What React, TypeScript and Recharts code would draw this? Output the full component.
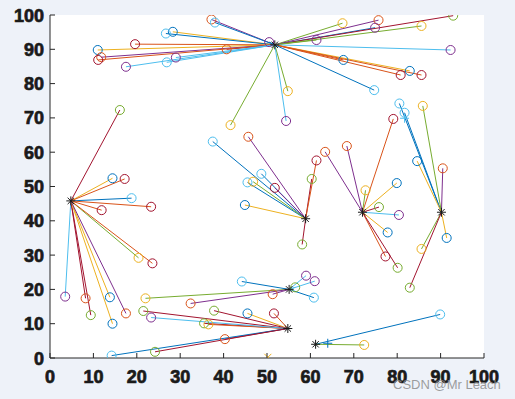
import React from "react";
import {
  ScatterChart,
  Scatter,
  XAxis,
  YAxis,
  ReferenceArea,
} from "recharts";

// MATLAB default colour order
const COLORS = ["#0072BD", "#D95319", "#EDB120", "#7E2F8E", "#77AC30", "#4DBEEE", "#A2142F"];

const xTicks = [0, 10, 20, 30, 40, 50, 60, 70, 80, 90, 100];
const yTicks = [0, 10, 20, 30, 40, 50, 60, 70, 80, 90, 100];

// hubs (black asterisks)
const hubs = [
  { x: 4.8, y: 45.8 },
  { x: 51.8, y: 91.3 },
  { x: 58.9, y: 40.6 },
  { x: 72.0, y: 42.5 },
  { x: 90.2, y: 42.5 },
  { x: 55.1, y: 20.0 },
  { x: 54.8, y: 8.6 },
  { x: 61.2, y: 4.0 },
];

// spokes: [x, y, lineColourIndex, circleColourIndex]
const spokesH1 = [
  [16.1, 72.3, 6, 4], [14.4, 52.4, 2, 0], [17.2, 52.2, 1, 6], [18.8, 46.6, 0, 5],
  [23.3, 44.1, 1, 6], [11.9, 43.1, 1, 6], [20.4, 29.2, 4, 2], [23.6, 27.6, 1, 6],
  [3.5, 17.9, 5, 3], [8.2, 17.4, 6, 1], [9.4, 12.5, 6, 4], [13.8, 17.7, 2, 0],
  [14.4, 10.0, 2, 0], [17.5, 13.0, 3, 1],
];
const spokesH2 = [
  [37.2, 98.7, 3, 1], [38.0, 97.8, 0, 5], [28.3, 95.1, 2, 0], [26.7, 94.6, 0, 5],
  [19.6, 91.5, 1, 6], [11.0, 89.8, 2, 0], [40.7, 90.0, 6, 1], [11.8, 87.7, 3, 1],
  [11.1, 86.9, 1, 6], [29.0, 87.6, 5, 3], [26.9, 86.2, 5, 5], [17.5, 84.9, 5, 3],
  [50.5, 92.1, 0, 3], [41.6, 67.9, 4, 2], [67.4, 97.6, 4, 2], [75.7, 98.5, 3, 1],
  [74.9, 96.3, 0, 3], [92.9, 99.8, 6, 4], [85.6, 96.8, 4, 2], [61.4, 92.7, 4, 3],
  [92.3, 89.8, 5, 3], [67.6, 86.9, 1, 0], [82.9, 83.7, 2, 0], [80.8, 82.5, 1, 6],
  [85.6, 82.5, 1, 6], [74.7, 78.1, 0, 5], [54.8, 77.8, 4, 2], [54.4, 69.1, 5, 3],
];
const spokesH3 = [
  [37.5, 63.1, 0, 5], [45.7, 64.5, 3, 1], [48.7, 53.7, 0, 5], [45.5, 51.2, 0, 5],
  [46.8, 51.4, 4, 2], [51.8, 49.6, 3, 6], [44.9, 44.6, 2, 0], [60.3, 52.2, 6, 4],
  [61.4, 57.6, 1, 6], [58.1, 33.1, 6, 4],
];
const spokesH4 = [
  [63.4, 60.1, 3, 1], [68.4, 61.8, 3, 1], [79.1, 69.7, 1, 6], [72.7, 48.9, 4, 2],
  [75.8, 44.0, 6, 4], [79.9, 51.0, 2, 0], [80.4, 41.7, 5, 3], [77.8, 36.6, 2, 0],
  [77.3, 29.6, 1, 6], [80.1, 26.3, 6, 4],
];
const spokesH5 = [
  [80.5, 74.2, 0, 5], [81.7, 71.5, 0, 5], [85.9, 73.5, 4, 2], [84.6, 57.4, 2, 0],
  [90.5, 55.3, 3, 1], [91.4, 35.0, 2, 0], [85.6, 31.8, 4, 2], [82.9, 20.5, 6, 4],
];
const spokesH6 = [
  [44.2, 22.3, 0, 5], [59.0, 24.0, 5, 3], [61.0, 22.4, 5, 3], [60.8, 17.6, 0, 5],
  [56.5, 20.6, 5, 4], [51.3, 18.6, 3, 1], [22.0, 17.4, 4, 2], [32.4, 15.9, 3, 1],
];
const spokesH7 = [
  [51.6, 13.0, 1, 6], [45.5, 13.0, 2, 0], [37.8, 13.8, 6, 4], [35.5, 10.1, 6, 4],
  [36.5, 9.8, 1, 2], [21.5, 13.7, 6, 4], [23.3, 11.8, 5, 3], [40.3, 5.5, 6, 1],
  [14.2, 0.7, 0, 5], [24.2, 1.8, 6, 4],
];
const spokesH8 = [
  [89.9, 12.7, 0, 5], [72.4, 3.8, 4, 2],
];

const allSpokes = [spokesH1, spokesH2, spokesH3, spokesH4, spokesH5, spokesH6, spokesH7, spokesH8];

// extra single markers: [x, y, colourIndex]
const plusMarkers = [[64.0, 4.3, 0], [81.7, 69.9, 5]];
const crossMarkers = [[50.2, 0.2, 2]];

const AX = "#262626";
const FONT = "'Liberation Sans', Arial, sans-serif";

const segments = allSpokes.flatMap((list, h) =>
  list.map((s) => ({
    data: [
      { x: hubs[h].x, y: hubs[h].y },
      { x: s[0], y: s[1] },
    ],
    color: COLORS[s[2]],
  }))
);

const circles = allSpokes.flatMap((list) =>
  list.map((s) => ({ x: s[0], y: s[1], c: COLORS[s[3]] }))
);

const plusData = plusMarkers.map((m) => ({ x: m[0], y: m[1], c: COLORS[m[2]] }));
const crossData = crossMarkers.map((m) => ({ x: m[0], y: m[1], c: COLORS[m[2]] }));

const Empty = () => <g />;

const CircleShape = (p: any) => (
  <circle cx={p.cx} cy={p.cy} r={4.5} fill="none" stroke={p.payload.c} strokeWidth={1} />
);

const Asterisk = (p: any) => {
  const r = 4.5;
  const d = 3.2;
  return (
    <g stroke="#1a1a1a" strokeWidth={1}>
      <line x1={p.cx - r} x2={p.cx + r} y1={p.cy} y2={p.cy} />
      <line x1={p.cx} x2={p.cx} y1={p.cy - r} y2={p.cy + r} />
      <line x1={p.cx - d} x2={p.cx + d} y1={p.cy - d} y2={p.cy + d} />
      <line x1={p.cx - d} x2={p.cx + d} y1={p.cy + d} y2={p.cy - d} />
    </g>
  );
};

const PlusShape = (p: any) => (
  <g stroke={p.payload.c} strokeWidth={1}>
    <line x1={p.cx - 4.5} x2={p.cx + 4.5} y1={p.cy} y2={p.cy} />
    <line x1={p.cx} x2={p.cx} y1={p.cy - 4.5} y2={p.cy + 4.5} />
  </g>
);

const CrossShape = (p: any) => (
  <g stroke={p.payload.c} strokeWidth={1}>
    <line x1={p.cx - 3.5} x2={p.cx + 3.5} y1={p.cy - 3.5} y2={p.cy + 3.5} />
    <line x1={p.cx - 3.5} x2={p.cx + 3.5} y1={p.cy + 3.5} y2={p.cy - 3.5} />
  </g>
);

const BottomTick = (p: any) => (
  <g>
    <line x1={p.x} x2={p.x} y1={p.y} y2={p.y - 5} stroke={AX} />
    <text x={p.x} y={p.y + 25} textAnchor="middle" fontFamily={FONT} fontWeight="bold" fontSize={18} fill="#1a1a1a" stroke="#1a1a1a" strokeWidth={0.7}>
      {p.payload.value}
    </text>
  </g>
);

const TopTick = (p: any) => (
  <line x1={p.x} x2={p.x} y1={p.y} y2={p.y + 5} stroke={AX} />
);

const LeftTick = (p: any) => (
  <g>
    <line x1={p.x} x2={p.x + 5} y1={p.y} y2={p.y} stroke={AX} />
    <text x={p.x - 6} y={p.y + 6.5} textAnchor="end" fontFamily={FONT} fontWeight="bold" fontSize={18} fill="#1a1a1a" stroke="#1a1a1a" strokeWidth={0.7}>
      {p.payload.value}
    </text>
  </g>
);

const RightTick = (p: any) => (
  <line x1={p.x} x2={p.x - 5} y1={p.y} y2={p.y} stroke={AX} />
);

export default function App() {
  return (
    <div
      style={{
        position: "fixed",
        left: 0,
        top: 0,
        width: 515,
        height: 399,
        background: "#EEF2F9",
        overflow: "hidden",
      }}
    >
      <ScatterChart width={515} height={399} margin={{ top: 15, right: 31, left: 0, bottom: 0 }}>
        <XAxis
          xAxisId="b"
          dataKey="x"
          type="number"
          domain={[0, 100]}
          ticks={xTicks}
          interval={0}
          height={41}
          tickSize={0}
          tickMargin={0}
          tickLine={false}
          axisLine={{ stroke: AX }}
          tick={<BottomTick />}
          allowDataOverflow
        />
        <XAxis
          xAxisId="t"
          orientation="top"
          dataKey="x"
          type="number"
          domain={[0, 100]}
          ticks={xTicks}
          interval={0}
          height={0}
          tickSize={0}
          tickMargin={0}
          tickLine={false}
          axisLine={{ stroke: AX }}
          tick={<TopTick />}
          allowDataOverflow
        />
        <YAxis
          yAxisId="l"
          dataKey="y"
          type="number"
          domain={[0, 100]}
          ticks={yTicks}
          interval={0}
          width={50}
          tickSize={0}
          tickMargin={0}
          tickLine={false}
          axisLine={{ stroke: AX }}
          tick={<LeftTick />}
          allowDataOverflow
        />
        <YAxis
          yAxisId="r"
          orientation="right"
          dataKey="y"
          type="number"
          domain={[0, 100]}
          ticks={yTicks}
          interval={0}
          width={0}
          tickSize={0}
          tickMargin={0}
          tickLine={false}
          axisLine={{ stroke: AX }}
          tick={<RightTick />}
          allowDataOverflow
        />
        <ReferenceArea xAxisId="b" yAxisId="l" x1={0} x2={100} y1={0} y2={100} fill="#ffffff" fillOpacity={1} stroke="none" />
        {segments.map((s, i) => (
          <Scatter
            key={"s" + i}
            xAxisId="b"
            yAxisId="l"
            data={s.data}
            line={{ stroke: s.color, strokeWidth: 1 }}
            shape={<Empty />}
            isAnimationActive={false}
          />
        ))}
        <Scatter xAxisId="t" yAxisId="r" data={circles} shape={<Empty />} isAnimationActive={false} />
        <Scatter xAxisId="b" yAxisId="l" data={circles} shape={<CircleShape />} isAnimationActive={false} />
        <Scatter xAxisId="b" yAxisId="l" data={plusData} shape={<PlusShape />} isAnimationActive={false} />
        <Scatter xAxisId="b" yAxisId="l" data={crossData} shape={<CrossShape />} isAnimationActive={false} />
        <Scatter xAxisId="b" yAxisId="l" data={hubs} shape={<Asterisk />} isAnimationActive={false} />
      </ScatterChart>
      <div
        style={{
          position: "absolute",
          left: 393,
          top: 377,
          fontFamily: FONT,
          fontSize: 13,
          color: "rgba(140,140,140,0.85)",
          whiteSpace: "nowrap",
        }}
      >
        CSDN @Mr Leach
      </div>
    </div>
  );
}
